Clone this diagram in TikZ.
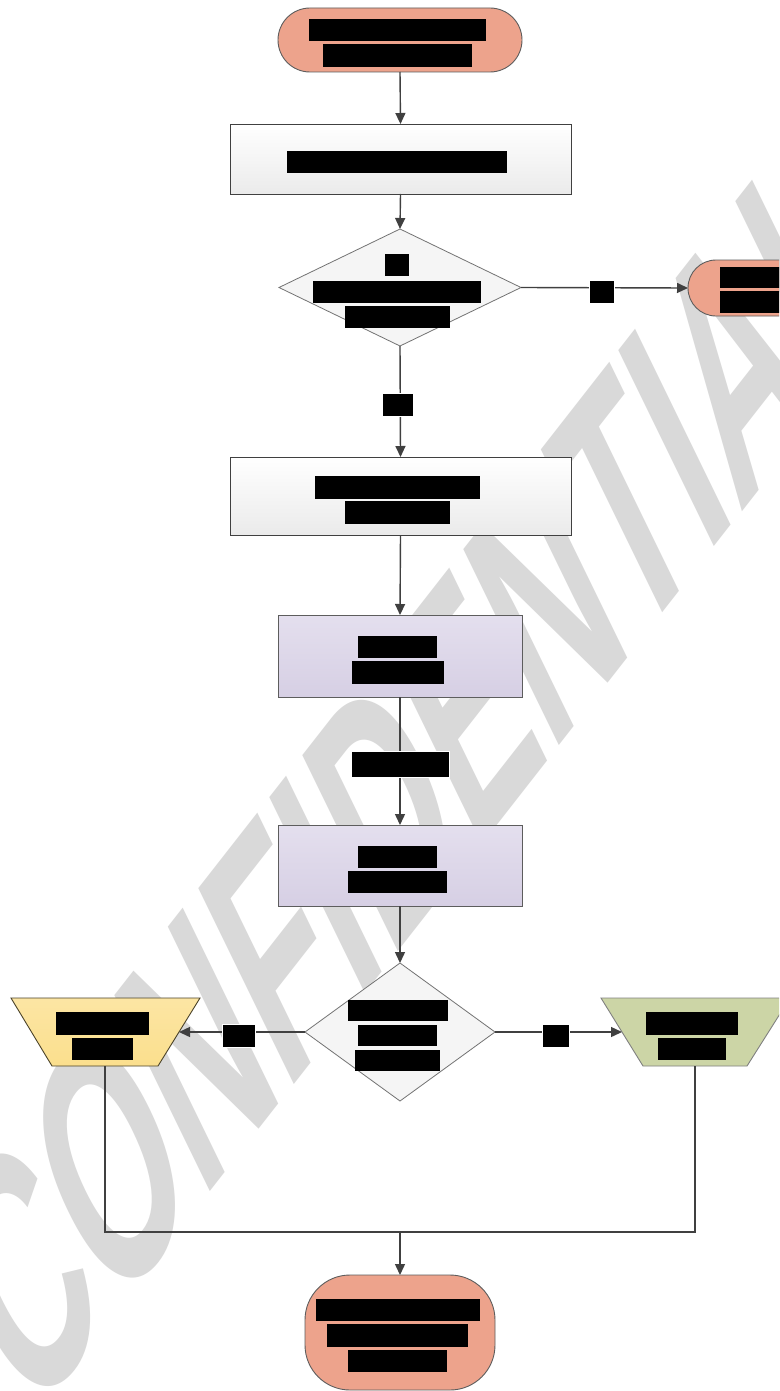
\documentclass[tikz,border=0pt]{standalone}
\usepackage{fontspec}
\newfontfamily\wmfont{Liberation Sans}
\usetikzlibrary{shapes.geometric,arrows.meta,calc}
\definecolor{salmon}{HTML}{EDA38C}
\definecolor{lav}{HTML}{E4DFEE}
\definecolor{lavb}{HTML}{D6CFE4}
\definecolor{yel}{HTML}{FBDF8D}
\definecolor{grn}{HTML}{CCD5A6}
\definecolor{wm}{HTML}{D9D9D9}
\definecolor{ln}{HTML}{404040}
\newcommand{\redact}[4]{\fill[black] (#1,#2) rectangle (#3,#4);}
\begin{document}
\begin{tikzpicture}[x=1pt,y=-1pt,
  every node/.style={inner sep=0pt, outer sep=0pt},
  term/.style={draw=ln!85, line width=0.9pt, fill=salmon},
  proc/.style={draw=ln, line width=0.9pt, top color=white, bottom color=black!8, rectangle},
  lproc/.style={draw=ln!85, line width=0.9pt, top color=lav, bottom color=lavb, rectangle},
  dec/.style={diamond, draw=black!55, line width=0.8pt, fill=black!4},
  conn/.style={draw=ln, line width=1.4pt, -{Triangle[length=11pt,width=10pt]}},
  plain/.style={draw=ln, line width=1.4pt},
  lbl/.style={fill=black, draw=white, line width=1.2pt}
]
\useasboundingbox (0,0) rectangle (779,1391);
\clip (0,0) rectangle (779,1391);
\fill[white] (0,0) rectangle (779,1391);
% watermark
\begin{scope}[shift={(28,1425)}, cm={0.5195,0.6646,-0.6198,1.2714,(0pt,0pt)}]
  \node[transform shape, anchor=base west, text=wm, font=\wmfont\bfseries\fontsize{224}{224}\selectfont] (wmark) at (0,0) {CONFIDENTIAL};
\end{scope}
% nodes
\node[term, rounded corners=32pt, minimum width=244pt, minimum height=64pt] (start) at (400,40) {};
\node[proc, minimum width=341pt, minimum height=70pt] (p1) at (400.5,159) {};
\node[dec, minimum width=242pt, minimum height=117pt] (d1) at (400,287.5) {};
\node[term, rounded corners=28pt, minimum width=172pt, minimum height=56pt] (endr) at (774,288) {};
\node[proc, minimum width=341pt, minimum height=78pt] (p2) at (400.5,496) {};
\node[lproc, minimum width=244pt, minimum height=82pt] (p3) at (400,656) {};
\node[lproc, minimum width=244pt, minimum height=81pt] (p4) at (400,865.5) {};
\node[dec, minimum width=190pt, minimum height=138pt] (d2) at (400,1032) {};
\node[term, rounded corners=45pt, minimum width=190pt, minimum height=115pt] (fin) at (400,1332.5) {};
% trapezoids
\draw[draw=black!50!yel!60!black, line width=0.9pt, top color=yel!80!white, bottom color=yel] (11,998) -- (200,998) -- (158,1066) -- (52,1066) -- cycle;
\draw[draw=black!50, line width=0.9pt, fill=grn] (601,998) -- (790,998) -- (747,1066) -- (643,1066) -- cycle;
\coordinate (yl-in) at (179,1032);
\coordinate (yl-out) at (105,1066);
\coordinate (gr-in) at (622,1032);
\coordinate (gr-out) at (695,1066);
\coordinate (jl) at (105,1232);
\coordinate (jr) at (695,1232);
\coordinate (jm) at (400,1232);
% connectors
\draw[conn] (start.south) -- (p1.north);
\draw[conn] (p1.south) -- (d1.north);
\draw[conn] (d1.east) -- (endr.west);
\draw[conn] (d1.south) -- (p2.north);
\draw[conn] (p2.south) -- (p3.north);
\draw[conn] (p3.south) -- (p4.north);
\draw[conn] (p4.south) -- (d2.north);
\draw[conn] (d2.west) -- (yl-in);
\draw[conn] (d2.east) -- (gr-in);
\draw[plain] (yl-out) -- (jl) -- (jr) -- (gr-out);
\draw[conn] (jm) -- (fin.north);
% connector labels
\node[lbl, minimum width=25pt, minimum height=23pt] (l1) at (602,292) {};
\node[lbl, minimum width=31pt, minimum height=23pt] (l2) at (398,405) {};
\node[lbl, minimum width=98pt, minimum height=26pt] (l3) at (400.5,764.5) {};
\node[lbl, minimum width=33pt, minimum height=23pt] (l4) at (239,1036) {};
\node[lbl, minimum width=27pt, minimum height=23pt] (l5) at (556,1036) {};
% redacted texts
\redact{309}{19}{486}{41}\redact{323}{44}{472}{67}
\redact{287}{151}{507}{173}
\redact{385}{254}{409}{276}\redact{313}{281}{481}{303}\redact{345}{306}{450}{328}
\redact{720}{267}{790}{288}\redact{720}{291}{790}{313}
\redact{315}{476}{480}{499}\redact{345}{501}{450}{524}
\redact{358}{636}{437}{658}\redact{352}{661}{444}{684}
\redact{358}{846}{437}{868}\redact{348}{871}{447}{893}
\redact{348}{1000}{448}{1021}\redact{358}{1025}{437}{1046}\redact{355}{1050}{440}{1071}
\redact{56}{1012}{149}{1035}\redact{72}{1038}{133}{1060}
\redact{646}{1012}{738}{1035}\redact{658}{1038}{726}{1060}
\redact{316}{1299}{480}{1321}\redact{327}{1324}{468}{1347}\redact{348}{1350}{447}{1372}
\end{tikzpicture}
\end{document}
